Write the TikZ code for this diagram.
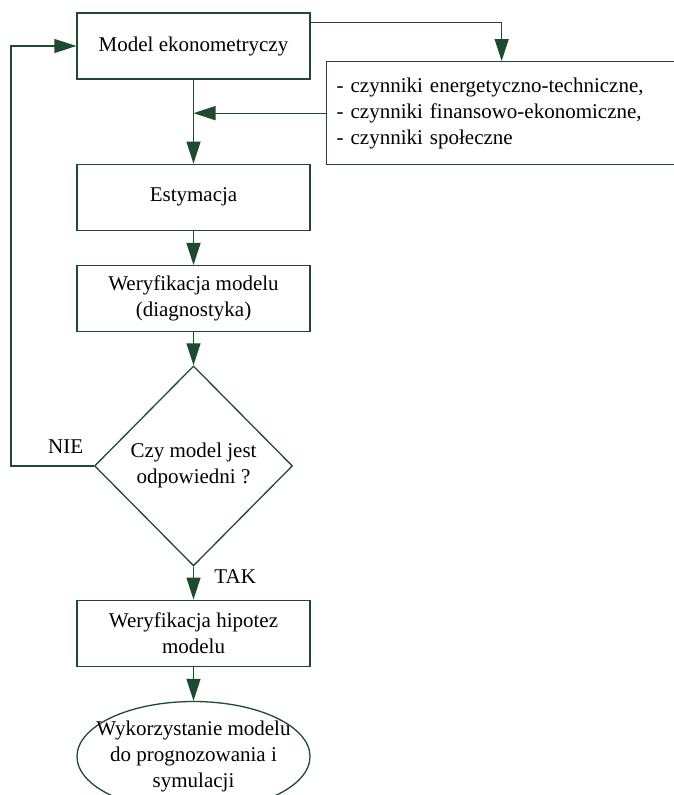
\documentclass[tikz,border=0pt]{standalone}
\usepackage{fontspec}
\setmainfont{Liberation Serif}
\usetikzlibrary{shapes.geometric,arrows.meta,positioning,calc}
\definecolor{ciemnazielen}{RGB}{30,75,45}
\tikzset{
    procbox/.style={
        rectangle,                % zwykły prostokąt
        draw=ciemnazielen,        % ciemnozielona ramka
        line width=1.3pt,
        minimum width=233pt,      % wszystkie bloki tej samej szerokości
        minimum height=66pt,
        align=center,
        inner sep=4pt
    },
    factorbox/.style={
        rectangle,
        draw=ciemnazielen,
        line width=1.3pt,
        text width=330pt,         % szeroki blok z listą czynników
        minimum height=103pt,
        align=left,               % lista wyrównana do lewej
        inner xsep=10pt,
        inner ysep=4pt
    },
    decisionbox/.style={
        diamond,                  % romb decyzyjny
        draw=ciemnazielen,
        line width=1.3pt,
        minimum width=198pt,
        minimum height=200pt,
        align=center,
        inner sep=0pt
    },
    resultbox/.style={
        ellipse,
        draw=ciemnazielen,
        line width=1.3pt,
        minimum width=233pt,
        minimum height=110pt,
        align=center,
        inner xsep=-25pt,         % tekst może wystawać poza elipsę
        inner ysep=0pt
    },
    flowarrow/.style={
        draw=ciemnazielen,
        line width=1.3pt,
        -{Triangle[length=22pt,width=14pt]}
    }
}
\begin{document}
\begin{tikzpicture}[x=1pt, y=-1pt, every node/.style={font=\fontsize{21}{26}\selectfont}]
    \useasboundingbox (0,0) rectangle (674,795);

    \node[procbox] (model) at (193.5,46) {Model ekonometryczy};
    \node[factorbox, anchor=north west] (czynniki) at (326,61) {- czynniki energetyczno-techniczne,\\- czynniki finansowo-ekonomiczne,\\- czynniki społeczne};
    \node[procbox, below=84pt of model] (estymacja) {Estymacja};
    \node[procbox, below=34pt of estymacja] (weryfikacja) {Weryfikacja modelu\\(diagnostyka)};
    \node[decisionbox, below=33pt of weryfikacja] (decyzja) {Czy model jest\\odpowiedni ?};
    \node[procbox, below=33pt of decyzja] (hipotezy) {Weryfikacja hipotez\\modelu};
    \node[resultbox, below=34pt of hipotezy] (wykorzystanie) {Wykorzystanie modelu\\do prognozowania i\\symulacji};

    \draw[flowarrow] ([yshift=-10pt]model.north east) -| (czynniki.north);
    \draw[flowarrow] (model) -- (estymacja);
    \draw[flowarrow] (czynniki.west) -- (czynniki.west -| model.south);
    \draw[flowarrow] (estymacja) -- (weryfikacja);
    \draw[flowarrow] (weryfikacja) -- (decyzja);
    \draw[flowarrow] (decyzja.west) -- node[above=8pt, pos=0.34] {NIE} ++(-83,0) |- (model.west);
    \draw[flowarrow] (decyzja) -- node[right=17pt, pos=0.3] {TAK} (hipotezy);
    \draw[flowarrow] (hipotezy) -- (wykorzystanie);
\end{tikzpicture}
\end{document}
